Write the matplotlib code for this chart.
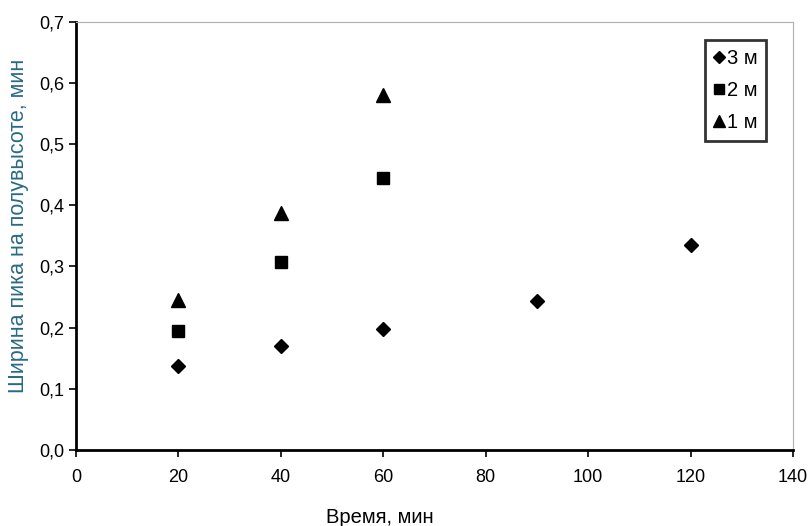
import matplotlib.pyplot as plt

plt.rcParams['font.family'] = ['Liberation Sans', 'DejaVu Sans']

# data
t_3m = [20, 40, 60, 90, 120]
w_3m = [0.137, 0.170, 0.197, 0.244, 0.335]
t_2m = [20, 40, 60]
w_2m = [0.194, 0.307, 0.444]
t_1m = [20, 40, 60]
w_1m = [0.245, 0.387, 0.580]

xticks = [0, 20, 40, 60, 80, 100, 120, 140]
yticks = [0.0, 0.1, 0.2, 0.3, 0.4, 0.5, 0.6, 0.7]

fig = plt.figure(figsize=(8.12, 5.26), dpi=100)
ax = fig.add_axes([0.0936, 0.1445, 0.883, 0.814])

ax.plot(t_3m, w_3m, 'D', color='black', markersize=7, linestyle='none', label='3 м')
ax.plot(t_2m, w_2m, 's', color='black', markersize=9, linestyle='none', label='2 м')
ax.plot(t_1m, w_1m, '^', color='black', markersize=10, linestyle='none', label='1 м')

ax.set_xlim(0, 140)
ax.set_ylim(0, 0.7)
ax.set_xticks(xticks)
ax.set_yticks(yticks)
ax.set_yticklabels([('%.1f' % v).replace('.', ',') for v in yticks])
ax.tick_params(labelsize=13, direction='out', length=5, width=1.2, colors='black')
ax.tick_params(axis='x', pad=9)

for s in ['top', 'right']:
    ax.spines[s].set_color('#b0b0b0')
for s in ['left', 'bottom']:
    ax.spines[s].set_linewidth(2)

ax.set_xlabel('Время, мин', fontsize=14.5)
ax.xaxis.set_label_coords(0.424, -0.135)
ax.set_ylabel('Ширина пика на полувысоте, мин', fontsize=15.5, color='#2a6a84')
ax.yaxis.set_label_coords(-0.066, 0.523)

leg = ax.legend(loc='upper right', bbox_to_anchor=(0.963, 0.958), fontsize=14.5,
                frameon=True, fancybox=False, handlelength=0.5, handletextpad=0.15,
                borderpad=0.45, labelspacing=0.65, markerscale=0.85, borderaxespad=0)
leg.get_frame().set_edgecolor('black')
leg.get_frame().set_linewidth(2)

fig.savefig('out.png', dpi=100)
